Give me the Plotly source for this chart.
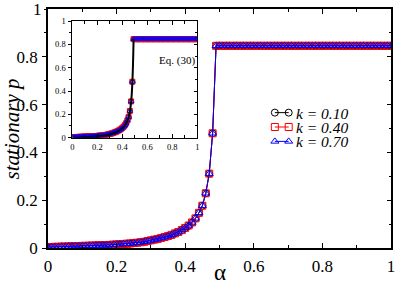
import plotly.graph_objects as go

# ---- data ----
alpha = [0.00, 0.01, 0.02, 0.03, 0.04, 0.05, 0.06, 0.07, 0.08, 0.09,
         0.10, 0.11, 0.12, 0.13, 0.14, 0.15, 0.16, 0.17, 0.18, 0.19,
         0.20, 0.21, 0.22, 0.23, 0.24, 0.25, 0.26, 0.27, 0.28, 0.29,
         0.30, 0.31, 0.32, 0.33, 0.34, 0.35, 0.36, 0.37, 0.38, 0.39,
         0.40, 0.41, 0.42, 0.43, 0.44, 0.45, 0.46, 0.47, 0.48, 0.49,
         0.50, 0.51, 0.52, 0.53, 0.54, 0.55, 0.56, 0.57, 0.58, 0.59,
         0.60, 0.61, 0.62, 0.63, 0.64, 0.65, 0.66, 0.67, 0.68, 0.69,
         0.70, 0.71, 0.72, 0.73, 0.74, 0.75, 0.76, 0.77, 0.78, 0.79,
         0.80, 0.81, 0.82, 0.83, 0.84, 0.85, 0.86, 0.87, 0.88, 0.89,
         0.90, 0.91, 0.92, 0.93, 0.94, 0.95, 0.96, 0.97, 0.98, 0.99,
         1.00]

p_k010 = [0.004, 0.004, 0.005, 0.005, 0.006, 0.006, 0.007, 0.007, 0.008, 0.008,
          0.009, 0.009, 0.010, 0.010, 0.011, 0.011, 0.012, 0.012, 0.013, 0.014,
          0.015, 0.016, 0.017, 0.018, 0.019, 0.021, 0.022, 0.024, 0.026, 0.029,
          0.032, 0.035, 0.038, 0.042, 0.046, 0.050, 0.055, 0.061, 0.067, 0.075,
          0.084, 0.094, 0.107, 0.124, 0.147, 0.177, 0.229, 0.311, 0.480, 0.846,
          0.846, 0.846, 0.846, 0.846, 0.846, 0.846, 0.846, 0.846, 0.846, 0.846,
          0.846, 0.846, 0.846, 0.846, 0.846, 0.846, 0.846, 0.846, 0.846, 0.846,
          0.846, 0.846, 0.846, 0.846, 0.846, 0.846, 0.846, 0.846, 0.846, 0.846,
          0.846, 0.846, 0.846, 0.846, 0.846, 0.846, 0.846, 0.846, 0.846, 0.846,
          0.846, 0.846, 0.846, 0.846, 0.846, 0.846, 0.846, 0.846, 0.846, 0.846,
          0.846]

p_k040 = [0.004, 0.004, 0.005, 0.005, 0.006, 0.006, 0.007, 0.007, 0.008, 0.008,
          0.009, 0.009, 0.010, 0.010, 0.011, 0.011, 0.012, 0.012, 0.013, 0.014,
          0.015, 0.016, 0.017, 0.018, 0.019, 0.021, 0.022, 0.024, 0.026, 0.029,
          0.032, 0.035, 0.038, 0.042, 0.046, 0.050, 0.055, 0.061, 0.067, 0.075,
          0.084, 0.094, 0.107, 0.124, 0.147, 0.177, 0.229, 0.311, 0.480, 0.846,
          0.846, 0.846, 0.846, 0.846, 0.846, 0.846, 0.846, 0.846, 0.846, 0.846,
          0.846, 0.846, 0.846, 0.846, 0.846, 0.846, 0.846, 0.846, 0.846, 0.846,
          0.846, 0.846, 0.846, 0.846, 0.846, 0.846, 0.846, 0.846, 0.846, 0.846,
          0.846, 0.846, 0.846, 0.846, 0.846, 0.846, 0.846, 0.846, 0.846, 0.846,
          0.846, 0.846, 0.846, 0.846, 0.846, 0.846, 0.846, 0.846, 0.846, 0.846,
          0.846]

p_k070 = [0.004, 0.004, 0.005, 0.005, 0.006, 0.006, 0.007, 0.007, 0.008, 0.008,
          0.009, 0.009, 0.010, 0.010, 0.011, 0.011, 0.012, 0.012, 0.013, 0.014,
          0.015, 0.016, 0.017, 0.018, 0.019, 0.021, 0.022, 0.024, 0.026, 0.029,
          0.032, 0.035, 0.038, 0.042, 0.046, 0.050, 0.055, 0.061, 0.067, 0.075,
          0.084, 0.094, 0.107, 0.124, 0.147, 0.177, 0.229, 0.311, 0.480, 0.846,
          0.846, 0.846, 0.846, 0.846, 0.846, 0.846, 0.846, 0.846, 0.846, 0.846,
          0.846, 0.846, 0.846, 0.846, 0.846, 0.846, 0.846, 0.846, 0.846, 0.846,
          0.846, 0.846, 0.846, 0.846, 0.846, 0.846, 0.846, 0.846, 0.846, 0.846,
          0.846, 0.846, 0.846, 0.846, 0.846, 0.846, 0.846, 0.846, 0.846, 0.846,
          0.846, 0.846, 0.846, 0.846, 0.846, 0.846, 0.846, 0.846, 0.846, 0.846,
          0.846]

alpha_eq = [0.0, 0.05, 0.10, 0.15, 0.20, 0.25, 0.30, 0.35, 0.40, 0.42, 0.44,
            0.45, 0.46, 0.47, 0.475, 0.48, 0.4825, 0.485, 0.4875, 0.49]
p_eq = [0.0, 0.002, 0.004, 0.007, 0.011, 0.017, 0.028, 0.046, 0.080, 0.104, 0.142,
        0.172, 0.222, 0.305, 0.370, 0.470, 0.540, 0.620, 0.720, 0.846]

series_labels = ["k = 0.10", "k = 0.40", "k = 0.70"]
eq_label = "Eq. (30)"
x_title = "α"
y_title = "stationary p"
y_ticks_main = [0, 0.2, 0.4, 0.6, 0.8]
y_top_label = "1"

# ---- styles ----
colors = ["black", "red", "blue"]
symbols = ["circle-open", "square-open", "triangle-up-open"]
series = [p_k010, p_k040, p_k070]
SERIF = "Liberation Serif"

W, H = 399, 281
ML, MR, MT, MB = 48, 4, 7, 33
PW, PH = W - ML - MR, H - MT - MB


def px_x(x):
    return (x - ML) / PW


def px_y(y):
    return (H - MB - y) / PH


fig = go.Figure()

# main plot
for p, c, s, name in zip(series, colors, symbols, series_labels):
    fig.add_trace(go.Scatter(
        x=alpha, y=p, mode="lines+markers", name=name, showlegend=False,
        line=dict(color=c, width=1),
        marker=dict(symbol=s, size=7, color=c, line=dict(width=1, color=c)),
        xaxis="x", yaxis="y"))

# inset
for p, c, s in zip(series, colors, symbols):
    fig.add_trace(go.Scatter(
        x=alpha, y=p, mode="markers", showlegend=False,
        marker=dict(symbol=s, size=5, color=c, line=dict(width=1, color=c)),
        xaxis="x2", yaxis="y2"))
fig.add_trace(go.Scatter(
    x=alpha_eq, y=p_eq, mode="lines", showlegend=False,
    line=dict(color="black", width=2, shape="spline"),
    xaxis="x2", yaxis="y2"))

# empty traces to anchor the right-hand tick axes
fig.add_trace(go.Scatter(x=[None], y=[None], xaxis="x", yaxis="y4",
                         showlegend=False, hoverinfo="skip"))
fig.add_trace(go.Scatter(x=[None], y=[None], xaxis="x2", yaxis="y5",
                         showlegend=False, hoverinfo="skip"))

# custom legend glyphs (overlay axis in pixel units)
LEG_X0, LEG_X1, LEG_Y0, LEG_DY = 277.5, 291.5, 111.5, 14.5
for i, (c, s, name) in enumerate(zip(colors, symbols, series_labels)):
    yy = LEG_Y0 + i * LEG_DY
    fig.add_trace(go.Scatter(
        x=[LEG_X0, LEG_X1], y=[yy, yy], mode="lines+markers", showlegend=False,
        line=dict(color=c, width=1),
        marker=dict(symbol=s, size=7, color=c, line=dict(width=1, color=c)),
        xaxis="x3", yaxis="y3", hoverinfo="skip"))
    fig.add_annotation(x=px_x(LEG_X1 + 5), y=px_y(yy + 0.5), xref="paper", yref="paper",
                       text=f"<i>{name}</i>", showarrow=False, xanchor="left",
                       yanchor="middle", font=dict(family=SERIF, size=15.5, color="black"))

# inset legend
IL_X0, IL_X1, IL_Y = 140.5, 155, 59
fig.add_trace(go.Scatter(
    x=[IL_X0, IL_X1], y=[IL_Y, IL_Y], mode="lines", showlegend=False,
    line=dict(color="black", width=2), xaxis="x3", yaxis="y3", hoverinfo="skip"))
fig.add_annotation(x=px_x(IL_X1 + 3), y=px_y(IL_Y), xref="paper", yref="paper",
                   text=eq_label, showarrow=False, xanchor="left", yanchor="middle",
                   font=dict(family=SERIF, size=11, color="black"))

# axis titles
fig.add_annotation(x=px_x(11.5), y=0.5, xref="paper", yref="paper",
                   text=f"<i>{y_title}</i>", showarrow=False, textangle=-90,
                   xanchor="center", yanchor="middle",
                   font=dict(family=SERIF, size=21, color="black"))
fig.add_annotation(x=0.5, y=px_y(272.5), xref="paper", yref="paper",
                   text=x_title, showarrow=False, xanchor="center", yanchor="middle",
                   font=dict(family=SERIF, size=23, color="black"))

# top label of the main y axis (placed at the top of the axis)
fig.add_annotation(x=px_x(44), y=1, xref="paper", yref="paper",
                   text=y_top_label, showarrow=False, xanchor="right", yanchor="middle",
                   font=dict(family=SERIF, size=17, color="black"))

tickfont_main = dict(family=SERIF, size=17, color="black")
tickfont_ins = dict(family=SERIF, size=8.5, color="black")

ins_x0, ins_x1 = px_x(72.7), px_x(199)
ins_y0, ins_y1 = px_y(136.7), px_y(19.3)

fig.update_layout(
    width=W, height=H,
    margin=dict(l=ML, r=MR, t=MT, b=MB),
    paper_bgcolor="white", plot_bgcolor="white",
    showlegend=False,
    font=dict(family=SERIF),
    xaxis=dict(range=[0, 1], domain=[0, 1], dtick=0.2, tick0=0, ticks="inside",
               ticklen=5, tickwidth=1, tickcolor="black", showline=True,
               linecolor="black", linewidth=1.5, mirror="ticks", showgrid=False,
               zeroline=False, tickfont=tickfont_main, ticklabelstandoff=2,
               ticklabeloverflow="allow",
               minor=dict(dtick=0.1, ticks="inside", ticklen=3, tickcolor="black",
                          showgrid=False)),
    yaxis=dict(range=[0, 1], domain=[0, 1], tickmode="array", tickvals=y_ticks_main,
               ticks="outside", ticklen=4, tickwidth=1, tickcolor="black", showline=True,
               linecolor="black", linewidth=1.5, mirror=True, showgrid=False,
               zeroline=False, tickfont=tickfont_main, ticklabelstandoff=1,
               ticklabeloverflow="allow",
               minor=dict(dtick=0.1, tick0=0, ticks="outside", ticklen=2.5,
                          tickcolor="black", showgrid=False)),
    yaxis4=dict(range=[0, 1], overlaying="y", side="right", anchor="x", dtick=0.2,
                tick0=0, ticks="inside", ticklen=4, tickwidth=1, tickcolor="black",
                showline=False, showgrid=False, zeroline=False, showticklabels=False,
                minor=dict(dtick=0.1, ticks="inside", ticklen=2.5, tickcolor="black",
                           showgrid=False)),
    xaxis2=dict(range=[0, 1], domain=[ins_x0, ins_x1], anchor="y2", dtick=0.2, tick0=0,
                ticks="inside", ticklen=4, tickwidth=1, tickcolor="black",
                showline=True, linecolor="black", linewidth=1, mirror="ticks",
                showgrid=False, zeroline=False, tickfont=tickfont_ins,
                ticklabelstandoff=1, ticklabeloverflow="allow",
                minor=dict(dtick=0.1, ticks="inside", ticklen=2.5, tickcolor="black",
                           showgrid=False)),
    yaxis2=dict(range=[0, 1], domain=[ins_y0, ins_y1], anchor="x2", dtick=0.2, tick0=0,
                ticks="outside", ticklen=3, tickwidth=1, tickcolor="black",
                showline=True, linecolor="black", linewidth=1, mirror=True,
                showgrid=False, zeroline=False, tickfont=tickfont_ins,
                ticklabelstandoff=1, ticklabeloverflow="allow",
                minor=dict(dtick=0.1, ticks="outside", ticklen=2, tickcolor="black",
                           showgrid=False)),
    yaxis5=dict(range=[0, 1], overlaying="y2", side="right", anchor="x2", dtick=0.2,
                tick0=0, ticks="inside", ticklen=3, tickwidth=1, tickcolor="black",
                showline=False, showgrid=False, zeroline=False, showticklabels=False,
                minor=dict(dtick=0.1, ticks="inside", ticklen=2, tickcolor="black",
                           showgrid=False)),
    xaxis3=dict(range=[ML, W - MR], overlaying="x", visible=False, anchor="y3"),
    yaxis3=dict(range=[H - MB, MT], overlaying="y", visible=False, anchor="x3"),
)

fig.write_html("out.html", config={"displayModeBar": False},
               post_script="document.body.style.margin='0';document.body.style.overflow='hidden';")
